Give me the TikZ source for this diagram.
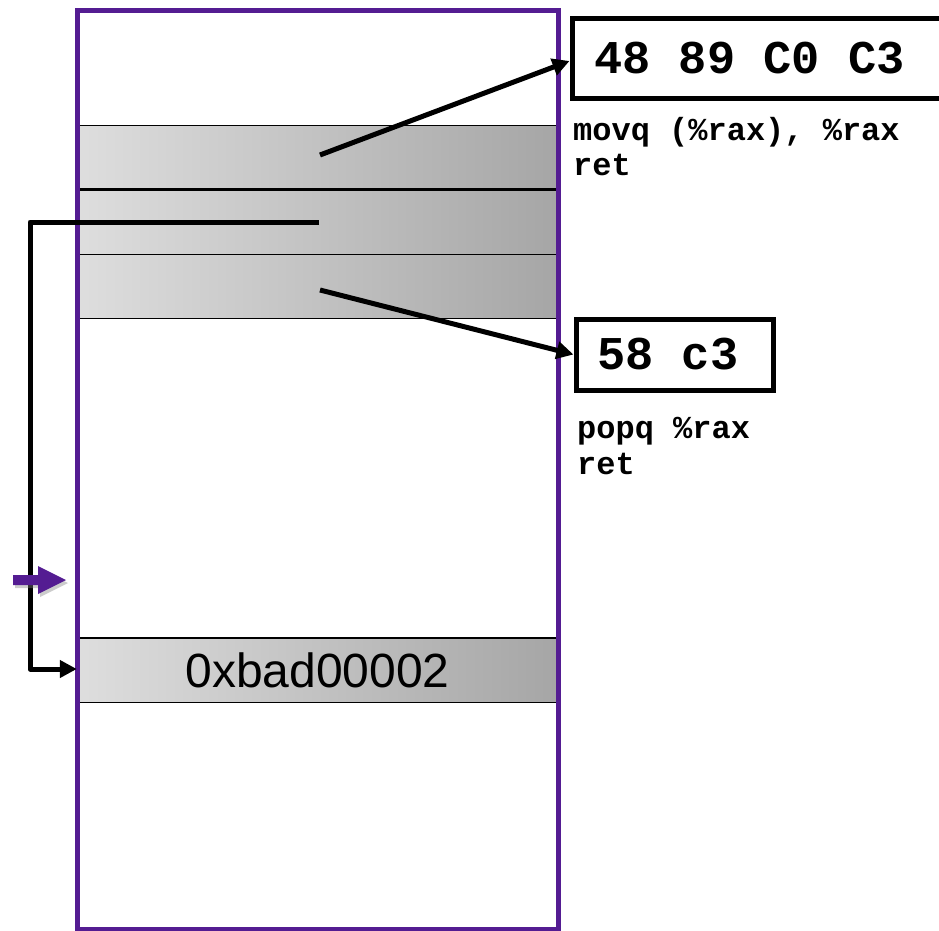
\documentclass[tikz,border=0pt]{standalone}
\usepackage{fontspec}
\setmainfont{Liberation Sans}
\newfontfamily\codefont{Liberation Mono}
\usetikzlibrary{arrows.meta,shadows}
\definecolor{stackpurple}{RGB}{84,28,146}
\tikzset{
  x=1pt,y=-1pt,
  band/.style={rectangle,inner sep=0pt,minimum width=481pt,minimum height=64pt,left color=black!13,right color=black!35,draw=none},
  bandline/.style={black,line width=1.4pt},
  conn/.style={black,line width=5pt,line join=round,-{Triangle[length=17pt,width=17pt]}},
  bytebox/.style={draw=black,line width=5pt,rectangle,inner sep=0pt},
  bigcode/.style={font=\codefont\bfseries\fontsize{47}{50}\selectfont,inner sep=0pt},
  smallcode/.style={font=\codefont\bfseries\fontsize{32}{36}\selectfont,inner sep=0pt,anchor=base west},
}
\begin{document}
\begin{tikzpicture}
\useasboundingbox (0,0) rectangle (939,930);
\clip (0,0) rectangle (939,930);
% bands
\node[band] (b1) at (317.5,157.5) {};
\node[band] (b2) at (317.5,222) {};
\node[band] (b3) at (317.5,286) {};
\node[band,font=\fontsize{48}{52}\selectfont] (b4) at (317.5,670) {0xbad00002};
\draw[bandline] (b1.north west) -- (b1.north east);
\draw[black,line width=2.6pt] (b1.south west) -- (b1.south east);
\draw[bandline] (b2.south west) -- (b2.south east);
\draw[bandline] (b3.south west) -- (b3.south east);
\draw[bandline] (b4.north west) -- (b4.north east);
\draw[bandline] (b4.south west) -- (b4.south east);
% stack outline
\node[draw=stackpurple,line width=5pt,rectangle,inner sep=0pt,minimum width=481pt,minimum height=919pt] (stack) at (317.5,469.5) {};
% byte boxes
\node[bytebox,minimum width=372pt,minimum height=80pt] (box1) at (758,58) {};
\node[bigcode,anchor=west] (t1) at (594,58) {48 89 C0 C3};
\node[bytebox,minimum width=197pt,minimum height=71pt] (box2) at (674.5,354.5) {};
\node[bigcode,anchor=west] (t2) at (597,354.5) {58 c3};
% instruction texts
\node[smallcode] (m1) at (573,140) {movq (\%rax), \%rax};
\node[smallcode] (m2) at (573,175) {ret};
\node[smallcode] (p1) at (577,438) {popq \%rax};
\node[smallcode] (p2) at (577,474) {ret};
% connectors
\coordinate (s1) at (320,155);
\coordinate (s3) at (320,290);
\draw[conn] (s1) -- (box1.west |- 0,61);
\draw[conn] (s3) -- (box2.west);
\coordinate (s2) at (319,222);
\coordinate (c1) at (30,222);
\coordinate (c2) at (30,669);
\draw[conn] (s2) -- (c1) -- (c2) -- (b4.west |- c2);
% purple pointer
\draw[fill=stackpurple,draw=none,drop shadow={shadow xshift=2pt,shadow yshift=-3pt,opacity=0.4}]
  (13,575) -- (38,575) -- (38,566) -- (66,580) -- (38,594) -- (38,585) -- (13,585) -- cycle;
\end{tikzpicture}
\end{document}
